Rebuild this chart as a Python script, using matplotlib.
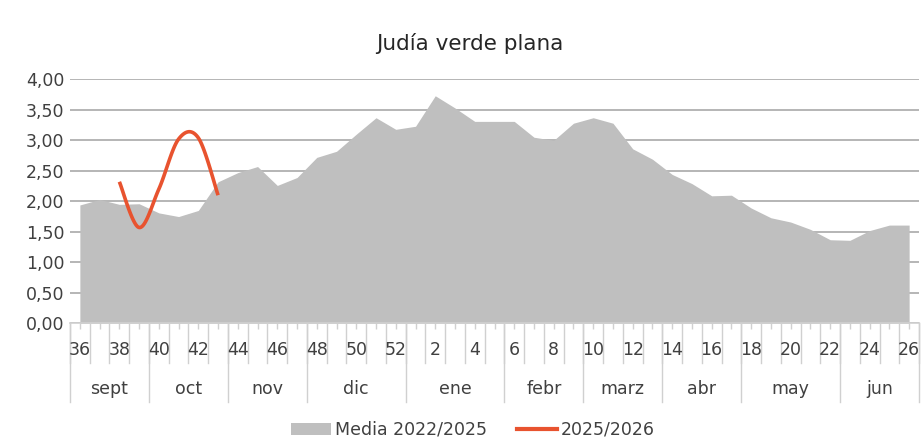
import matplotlib
matplotlib.use("Agg")
import matplotlib.pyplot as plt
import matplotlib.transforms as mtransforms
from matplotlib.lines import Line2D
from matplotlib.patches import Patch
import numpy as np

TITLE = "Judía verde plana"
WEEKS = list(range(36, 53)) + list(range(1, 27))
MONTHS = ["sept", "oct", "nov", "dic", "ene", "febr", "marz", "abr", "may", "jun"]
MONTH_WEEKS = [4, 4, 4, 5, 5, 4, 4, 4, 5, 4]

MEDIA = [1.94, 2.03, 1.95, 1.96, 1.81, 1.75, 1.85, 2.32, 2.47, 2.57,
         2.26, 2.39, 2.72, 2.82, 3.10, 3.37, 3.18, 3.23, 3.73, 3.53,
         3.31, 3.31, 3.31, 3.05, 3.00, 3.28, 3.37, 3.28, 2.86, 2.69,
         2.44, 2.29, 2.09, 2.10, 1.89, 1.73, 1.66, 1.54, 1.37, 1.36,
         1.52, 1.61, 1.61]
CURRENT_START = 2  # week 38
CURRENT = [2.32, 1.57, 2.20, 3.02, 3.04, 2.10]

GREY = "#BFBFBF"
RED = "#E8532F"
TEXT = "#404040"
AXIS_LINE = "#D0D0D0"
GRID = "#B0B0B0"
FONT = 12.5


def smooth(xs, ys, steps=20):
    # Excel-style smoothed line (Catmull-Rom as cubic Bezier)
    xs = np.asarray(xs, float)
    ys = np.asarray(ys, float)
    n = len(xs)
    out_x, out_y = [], []
    t = np.linspace(0, 1, steps)
    for i in range(n - 1):
        p0 = np.array([xs[max(i - 1, 0)], ys[max(i - 1, 0)]])
        p1 = np.array([xs[i], ys[i]])
        p2 = np.array([xs[i + 1], ys[i + 1]])
        p3 = np.array([xs[min(i + 2, n - 1)], ys[min(i + 2, n - 1)]])
        c1 = p1 + (p2 - p0) / 6
        c2 = p2 - (p3 - p1) / 6
        b = ((1 - t) ** 3)[:, None] * p1 + (3 * (1 - t) ** 2 * t)[:, None] * c1 \
            + (3 * (1 - t) * t ** 2)[:, None] * c2 + (t ** 3)[:, None] * p2
        out_x.extend(b[:, 0])
        out_y.extend(b[:, 1])
    return out_x, out_y


fig = plt.figure(figsize=(9.22, 4.47), dpi=100)
ax = fig.add_axes([70 / 922, 123.7 / 447, 849 / 922, 244 / 447])

x = np.arange(len(WEEKS))
ax.fill_between(x, MEDIA, 0, color=GREY, linewidth=0, zorder=2)

cx = x[CURRENT_START:CURRENT_START + len(CURRENT)]
sx, sy = smooth(cx, CURRENT)
ax.plot(sx, sy, color=RED, linewidth=2.6, solid_capstyle="butt", zorder=3)

ax.set_xlim(-0.5, len(WEEKS) - 0.5)
ax.set_ylim(0, 4)
ax.set_yticks(np.arange(0, 4.01, 0.5))
ax.set_yticklabels([f"{v:.2f}".replace(".", ",") for v in np.arange(0, 4.01, 0.5)],
                   fontsize=FONT, color=TEXT)
ax.yaxis.grid(True, color=GRID, linewidth=1.3, zorder=1)
ax.set_axisbelow(True)
ax.tick_params(axis="y", length=0, pad=4)

for side in ("left", "right", "top"):
    ax.spines[side].set_visible(False)
ax.spines["bottom"].set_color(AXIS_LINE)
ax.spines["bottom"].set_linewidth(1.2)
ax.spines["bottom"].set_zorder(4)

# short ticks at each category
ax.set_xticks(x)
ax.set_xticklabels([])
ax.tick_params(axis="x", length=4, width=1.0, color=AXIS_LINE, direction="out")

trans = mtransforms.blended_transform_factory(ax.transData, ax.transAxes)

# category separators and week labels
for b in range(len(WEEKS) + 1):
    ax.plot([b - 0.5, b - 0.5], [0, -0.163], transform=trans, color=AXIS_LINE,
            linewidth=1.0, clip_on=False)
for i, w in enumerate(WEEKS):
    if i % 2 == 0:
        ax.text(i, -0.109, str(w), transform=trans, ha="center", va="center",
                fontsize=FONT, color=TEXT)

# month separators and labels
start = 0
for name, n in zip(MONTHS, MONTH_WEEKS):
    ax.plot([start - 0.5, start - 0.5], [0, -0.322], transform=trans, color=AXIS_LINE,
            linewidth=1.0, clip_on=False)
    ax.text(start + (n - 1) / 2, -0.27, name, transform=trans, ha="center", va="center",
            fontsize=FONT, color=TEXT)
    start += n
ax.plot([start - 0.5, start - 0.5], [0, -0.322], transform=trans, color=AXIS_LINE,
        linewidth=1.0, clip_on=False)

fig.text(470 / 922, (447 - 43) / 447, TITLE, ha="center", va="center",
         fontsize=15.5, color="#262626")

handles = [Patch(facecolor=GREY, edgecolor="none", label="Media 2022/2025"),
           Line2D([], [], color=RED, linewidth=3, label="2025/2026")]
fig.legend(handles=handles, loc="center", bbox_to_anchor=(473 / 922, 17 / 447),
           ncol=2, frameon=False, fontsize=FONT, handlelength=2.3, handleheight=0.7,
           handletextpad=0.25, columnspacing=1.7, labelcolor=TEXT)

fig.savefig("out.png", dpi=100)
